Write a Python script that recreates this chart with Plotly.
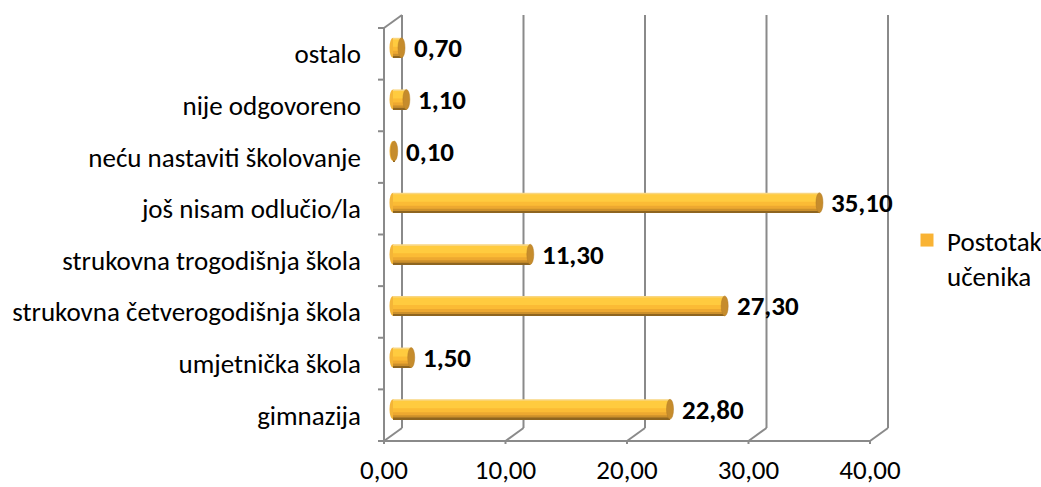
import plotly.graph_objects as go

# ---- data ----
categories = ["gimnazija", "umjetnička škola", "strukovna četverogodišnja škola",
              "strukovna trogodišnja škola", "još nisam odlučio/la",
              "neću nastaviti školovanje", "nije odgovoreno", "ostalo"]
values = [22.80, 1.50, 27.30, 11.30, 35.10, 0.10, 1.10, 0.70]
x_ticks = [0, 10, 20, 30, 40]
series_name = "Postotak<br>učenika"

# ---- geometry (pixel based layout) ----
W, H = 1041, 487
L, R, T, B = 378, 892, 12, 444
front_x0_px, front_x40_px = 384, 870
front_y0_px, front_y8_px = 441, 28
sx = (front_x40_px - front_x0_px) / 40.0
sy = (front_y0_px - front_y8_px) / 8.0
xmin = (L - front_x0_px) / sx
xmax = (R - front_x0_px) / sx
ymin = -(B - front_y0_px) / sy
ymax = (front_y0_px - T) / sy
dx = 18 / sx
dy = 13 / sy
bar_dx = 9 / sx
bar_dy = 6 / sy
bar_h = 20 / sy
n = len(categories)

FONT = "Carlito, Lato, sans-serif"
FS = 27
GRID = "#8a8a8a"

fig = go.Figure()

pos = [i + 0.5 + bar_dy for i in range(n)]
base = [bar_dx] * n

bands = [(0.0, "#F9D680"), (0.08, "#FFCB3F"), (0.45, "#FBBB35"),
         (0.65, "#EDA830"), (0.80, "#CC902B"), (0.92, "#8E6520")]
for k, (f0, col) in enumerate(bands):
    fig.add_trace(go.Bar(
        y=pos, x=values, base=base, orientation="h",
        width=[(1 - f0) * bar_h] * n,
        offset=[-bar_h / 2] * n,
        marker=dict(color=col, line=dict(width=0)),
        showlegend=False, hoverinfo="skip"))

# legend entry
fig.add_trace(go.Scatter(y=[None], x=[None], mode="markers", name=series_name,
                         marker=dict(color="#F9B334", symbol="square", size=13,
                                     line=dict(width=0)),
                         showlegend=True))

shapes = []
for t in x_ticks:
    shapes.append(dict(type="line", x0=t, y0=0, x1=t + dx, y1=dy,
                       line=dict(color=GRID, width=2), layer="below"))
    shapes.append(dict(type="line", x0=t + dx, y0=dy, x1=t + dx, y1=8 + dy,
                       line=dict(color=GRID, width=2), layer="below"))
    shapes.append(dict(type="line", xref="x", yref="y", x0=t, x1=t,
                       ysizemode="pixel", yanchor=0, y0=0, y1=-7,
                       line=dict(color=GRID, width=2), layer="below"))
shapes.append(dict(type="line", x0=0, y0=0, x1=0, y1=8,
                   line=dict(color=GRID, width=2), layer="below"))
shapes.append(dict(type="line", x0=0, y0=0, x1=x_ticks[-1], y1=0,
                   line=dict(color=GRID, width=2), layer="below"))
shapes.append(dict(type="line", x0=0, y0=8, x1=dx, y1=8 + dy,
                   line=dict(color=GRID, width=2), layer="below"))
for b in range(n + 1):
    shapes.append(dict(type="line", xref="x", yref="y", y0=b, y1=b,
                       xsizemode="pixel", xanchor=0, x0=-8, x1=0,
                       line=dict(color=GRID, width=2), layer="below"))
for p, v, b0 in zip(pos, values, base):
    shapes.append(dict(type="circle", xsizemode="pixel", xanchor=b0, x0=-3.5, x1=3.5,
                       y0=p - bar_h / 2, y1=p + bar_h / 2,
                       fillcolor="#F4B537", line=dict(width=0), layer="below"))
    shapes.append(dict(type="circle", xsizemode="pixel", xanchor=b0 + v, x0=-3.5, x1=3.5,
                       y0=p - bar_h / 2, y1=p + bar_h / 2,
                       fillcolor="#C68C2C", line=dict(color="#B27C26", width=0.5),
                       layer="above"))

annotations = []
for p, v, b0 in zip(pos, values, base):
    annotations.append(dict(x=b0 + v, y=p, xref="x", yref="y",
                            text=f"{v:.2f}".replace(".", ","), showarrow=False,
                            xanchor="left", yanchor="middle", xshift=10, yshift=0,
                            font=dict(family=FONT, size=FS, color="#000000", weight="bold")))

fig.update_layout(
    template="none",
    width=W, height=H,
    margin=dict(l=L, r=W - R, t=T, b=H - B, pad=0, autoexpand=False),
    paper_bgcolor="white", plot_bgcolor="white",
    barmode="overlay",
    shapes=shapes, annotations=annotations,
    font=dict(family=FONT, size=FS, color="#000000"),
    xaxis=dict(range=[xmin, xmax], tickvals=x_ticks,
               ticktext=[f"{t:.2f}".replace(".", ",") for t in x_ticks],
               showgrid=False, zeroline=False, showline=False, ticks="",
               ticklabelstandoff=7, automargin=False, fixedrange=True),
    yaxis=dict(range=[ymin, ymax], tickvals=[i + 0.5 for i in range(n)],
               ticktext=categories, showgrid=False, zeroline=False,
               showline=False, ticks="", ticklabelstandoff=16,
               automargin=False, fixedrange=True),
    legend=dict(x=(907 - L) / (R - L), y=(B - 216) / (B - T), xanchor="left",
                yanchor="top", valign="top", font=dict(family=FONT, size=FS),
                bgcolor="rgba(0,0,0,0)", tracegroupgap=0),
    showlegend=True,
)

fig.write_html("out.html", post_script="document.body.style.margin='0';",
               config={"displayModeBar": False})
